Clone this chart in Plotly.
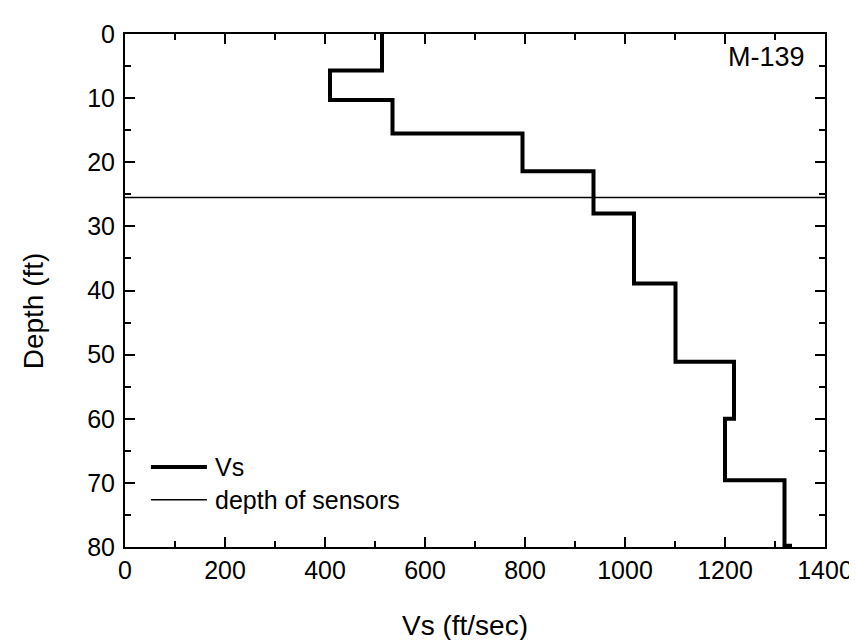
import plotly.graph_objects as go

# layer tops (ft) and shear-wave velocity in each layer (ft/sec)
layer_top = [0, 5.7, 10.3, 15.5, 21.4, 28.0, 38.9, 51.1, 60.0, 69.6, 79.8]
vs = [514, 410, 535, 795, 937, 1018, 1101, 1218, 1200, 1319, 1330]
max_depth = 80

sensor_depth = 25.5
x_range = [0, 1400]

font = "Arial, Liberation Sans, sans-serif"

fig = go.Figure()

fig.add_trace(go.Scatter(
    x=vs + [vs[-1]],
    y=layer_top + [max_depth],
    mode="lines",
    line=dict(color="black", width=4, shape="vh"),
    name="Vs",
))

fig.add_trace(go.Scatter(
    x=x_range,
    y=[sensor_depth, sensor_depth],
    mode="lines",
    line=dict(color="black", width=1.5),
    name="depth of sensors",
))

# legend drawn by hand so the sample lines are as long as in the original
legend_items = [("Vs", 4, 0.156), ("depth of sensors", 1.5, 0.092)]
for label, w, ly in legend_items:
    fig.add_shape(type="line", xref="paper", yref="paper",
                  x0=0.037, x1=0.117, y0=ly, y1=ly,
                  line=dict(color="black", width=w))
    fig.add_annotation(x=0.126, y=ly, xref="paper", yref="paper",
                       text=label, showarrow=False,
                       xanchor="left", yanchor="middle",
                       font=dict(size=25, color="black", family=font))

fig.add_annotation(
    x=0.974, y=0.955, xref="paper", yref="paper",
    text="M-139", showarrow=False,
    xanchor="right", yanchor="middle",
    font=dict(size=27, color="black", family=font),
)

# axis titles (placed as in the original, a bit off-centre)
fig.add_annotation(
    x=0.485, y=-0.153, xref="paper", yref="paper",
    text="Vs (ft/sec)", showarrow=False,
    xanchor="center", yanchor="middle",
    font=dict(size=28, color="black", family=font),
)
fig.add_annotation(
    x=-0.131, y=0.46, xref="paper", yref="paper",
    text="Depth (ft)", showarrow=False, textangle=-90,
    xanchor="center", yanchor="middle",
    font=dict(size=28, color="black", family=font),
)

axis_common = dict(
    showline=True, linecolor="black", linewidth=2, mirror="allticks",
    ticks="inside", ticklen=10, tickwidth=1.5, tickcolor="black",
    showgrid=False, zeroline=False,
    tickfont=dict(size=25, color="black", family=font),
)

fig.update_xaxes(
    range=x_range, dtick=200,
    minor=dict(ticks="inside", ticklen=6, tickwidth=1.5, tickcolor="black", dtick=100),
    **axis_common,
)
fig.update_yaxes(
    range=[max_depth, 0], dtick=10,
    minor=dict(ticks="inside", ticklen=6, tickwidth=1.5, tickcolor="black", dtick=5),
    ticklabelstandoff=3,
    **axis_common,
)

fig.update_layout(
    width=857, height=640,
    margin=dict(l=117, r=32, t=19, b=101),
    plot_bgcolor="white", paper_bgcolor="white",
    font=dict(family=font, color="black"),
    showlegend=False,
)

fig.write_html("out.html")
